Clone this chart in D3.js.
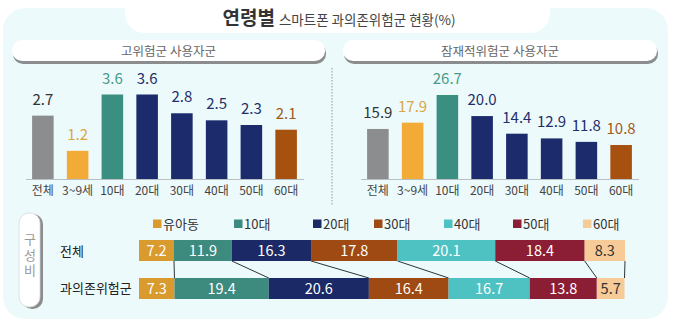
<!DOCTYPE html>
<html><head><meta charset="utf-8">
<script src="https://cdn.jsdelivr.net/npm/d3@7/dist/d3.min.js"></script>
<style>
html,body{margin:0;padding:0;background:#fff;}
svg{display:block;font-family:"Noto Sans CJK KR","Noto Sans",sans-serif;}
</style></head>
<body>
<svg id="c" width="678" height="330"></svg>
<script>
// ---- data ----
const categories = ["전체", "3~9세", "10대", "20대", "30대", "40대", "50대", "60대"];
const highRisk = [2.7, 1.2, 3.6, 3.6, 2.8, 2.5, 2.3, 2.1];
const potentialRisk = [15.9, 17.9, 26.7, 20.0, 14.4, 12.9, 11.8, 10.8];
const stackGroups = ["유아동", "10대", "20대", "30대", "40대", "50대", "60대"];
const stackRows = ["전체", "과의존위험군"];
const shareAll = [7.2, 11.9, 16.3, 17.8, 20.1, 18.4, 8.3];
const shareRisk = [7.3, 19.4, 20.6, 16.4, 16.7, 13.8, 5.7];

// ---- styles ----
const barColors = ["#8b8d8f", "#f2ab36", "#3b8f80", "#1b2b6b", "#1b2b6b", "#1b2b6b", "#1b2b6b", "#a6510f"];
const labelColors = ["#333333", "#dba645", "#4a9a8b", "#1f2f6b", "#1f2f6b", "#1f2f6b", "#1f2f6b", "#a05a1c"];
const stackColors = ["#d99a2e", "#3d8a7e", "#1b2a66", "#9e4a12", "#4ec2c3", "#8b1e35", "#f7cb98"];
const stackText = ["#fff", "#fff", "#fff", "#fff", "#fff", "#fff", "#333"];

const svg = d3.select("#c");

// background panel
svg.append("rect").attr("x", 3).attr("y", 8).attr("width", 665).attr("height", 311)
  .attr("rx", 22).attr("fill", "#edfafc");
svg.append("rect").attr("x", 125).attr("y", -12).attr("width", 425).attr("height", 45)
  .attr("rx", 20).attr("fill", "#ffffff");

// title
const title = svg.append("text").attr("x", 339).attr("y", 25).attr("text-anchor", "middle").attr("fill", "#333");
title.append("tspan").attr("font-size", 19).attr("font-weight", 700).text("연령별");
title.append("tspan").attr("font-size", 13.5).attr("dx", 4).attr("fill", "#444").text("스마트폰 과의존위험군 현황(%)");

// header pills
function pill(x0, x1, label) {
  svg.append("rect").attr("x", x0 + 1).attr("y", 43).attr("width", x1 - x0).attr("height", 21)
    .attr("rx", 10).attr("fill", "#8a8c8e");
  svg.append("rect").attr("x", x0).attr("y", 40).attr("width", x1 - x0).attr("height", 21)
    .attr("rx", 10).attr("fill", "#ffffff");
  svg.append("text").attr("x", (x0 + x1) / 2).attr("y", 55.5).attr("text-anchor", "middle")
    .attr("font-size", 12.5).attr("fill", "#666").text(label);
}
pill(12, 325, "고위험군 사용자군");
pill(343, 657, "잠재적위험군 사용자군");

// dotted separator
svg.append("line").attr("x1", 332).attr("x2", 332).attr("y1", 68).attr("y2", 205)
  .attr("stroke", "#8c9aa0").attr("stroke-width", 1).attr("stroke-dasharray", "1.5,1.5");

// bar charts
function barChart(values, x0, x1, top) {
  const x = d3.scaleBand().domain(categories).range([x0, x1]).paddingInner(0.38).paddingOuter(0.19);
  const y = d3.scaleLinear().domain([0, d3.max(values)]).range([179, top]);
  const g = svg.append("g");
  g.selectAll("rect").data(values).join("rect")
    .attr("x", (d, i) => x(categories[i])).attr("width", x.bandwidth())
    .attr("y", d => y(d)).attr("height", d => y(0) - y(d))
    .attr("fill", (d, i) => barColors[i]);
  g.selectAll("text.v").data(values).join("text").attr("class", "v")
    .attr("x", (d, i) => x(categories[i]) + x.bandwidth() / 2)
    .attr("y", d => y(d) - 11).attr("text-anchor", "middle")
    .attr("font-size", 15).attr("fill", (d, i) => labelColors[i])
    .text(d => d.toFixed(1));
  const ax = svg.append("g").attr("transform", "translate(0,179)")
    .call(d3.axisBottom(x).tickSize(0).tickSizeOuter(0).tickPadding(7));
  ax.select(".domain").attr("stroke", "#b8bfc4").attr("stroke-width", 1.2);
  ax.selectAll("text").attr("font-size", 12).attr("fill", "#444")
    .attr("font-family", "'Noto Sans CJK KR', sans-serif");
}
barChart(highRisk, 25.5, 303.5, 94.5);
barChart(potentialRisk, 360.5, 638.5, 95);

// 구성비 pill
svg.append("rect").attr("x", 22).attr("y", 214).attr("width", 21).attr("height", 95)
  .attr("rx", 10).attr("fill", "#8a8c8e");
svg.append("rect").attr("x", 19).attr("y", 213).attr("width", 21).attr("height", 94)
  .attr("rx", 10).attr("fill", "#ffffff").attr("stroke", "#d5dadc").attr("stroke-width", 0.8);
svg.append("text").attr("x", 30).attr("y", 256)
  .attr("text-anchor", "middle")
  .style("writing-mode", "vertical-rl").style("text-orientation", "upright")
  .attr("letter-spacing", 2.5)
  .attr("font-size", 13).attr("fill", "#9a9a9a").text("구성비");

// legend
const legendX = [153, 234, 313, 374, 444, 513, 583];
stackGroups.forEach((s, i) => {
  svg.append("rect").attr("x", legendX[i]).attr("y", 219.5).attr("width", 8.5).attr("height", 8.5)
    .attr("fill", stackColors[i]);
  svg.append("text").attr("x", legendX[i] + 10).attr("y", 229).attr("font-size", 13)
    .attr("fill", "#333").text(s);
});

// stacked bars
const xs = d3.scaleLinear().domain([0, 100]).range([139, 625]);
const ys = d3.scaleBand().domain(stackRows).range([240, 299]).paddingInner(0.447);
const rowsData = [shareAll, shareRisk];
const cums = rowsData.map(r => { let c = 0; return r.map(v => { const s = c; c += v; return [s, c]; }); });

// connectors
const conn = svg.append("g");
stackGroups.forEach((s, i) => {
  conn.append("line")
    .attr("x1", xs(cums[0][i][1])).attr("y1", ys(stackRows[0]) + ys.bandwidth())
    .attr("x2", xs(cums[1][i][1])).attr("y2", ys(stackRows[1]))
    .attr("stroke", "#2d3438").attr("stroke-width", 1);
});

stackRows.forEach((row, r) => {
  svg.append("text").attr("x", 60).attr("y", ys(row) + ys.bandwidth() / 2 + 5)
    .attr("font-size", 13).attr("fill", "#222").text(row);
  const g = svg.append("g");
  g.selectAll("rect").data(cums[r]).join("rect")
    .attr("x", d => xs(d[0])).attr("width", d => xs(d[1]) - xs(d[0]))
    .attr("y", ys(row)).attr("height", ys.bandwidth())
    .attr("fill", (d, i) => stackColors[i]);
  g.selectAll("text").data(cums[r]).join("text")
    .attr("x", d => (xs(d[0]) + xs(d[1])) / 2)
    .attr("y", ys(row) + ys.bandwidth() / 2 + 5.5)
    .attr("text-anchor", "middle").attr("font-size", 14.5)
    .attr("fill", (d, i) => stackText[i])
    .text((d, i) => rowsData[r][i].toFixed(1));
});
</script>
</body></html>
